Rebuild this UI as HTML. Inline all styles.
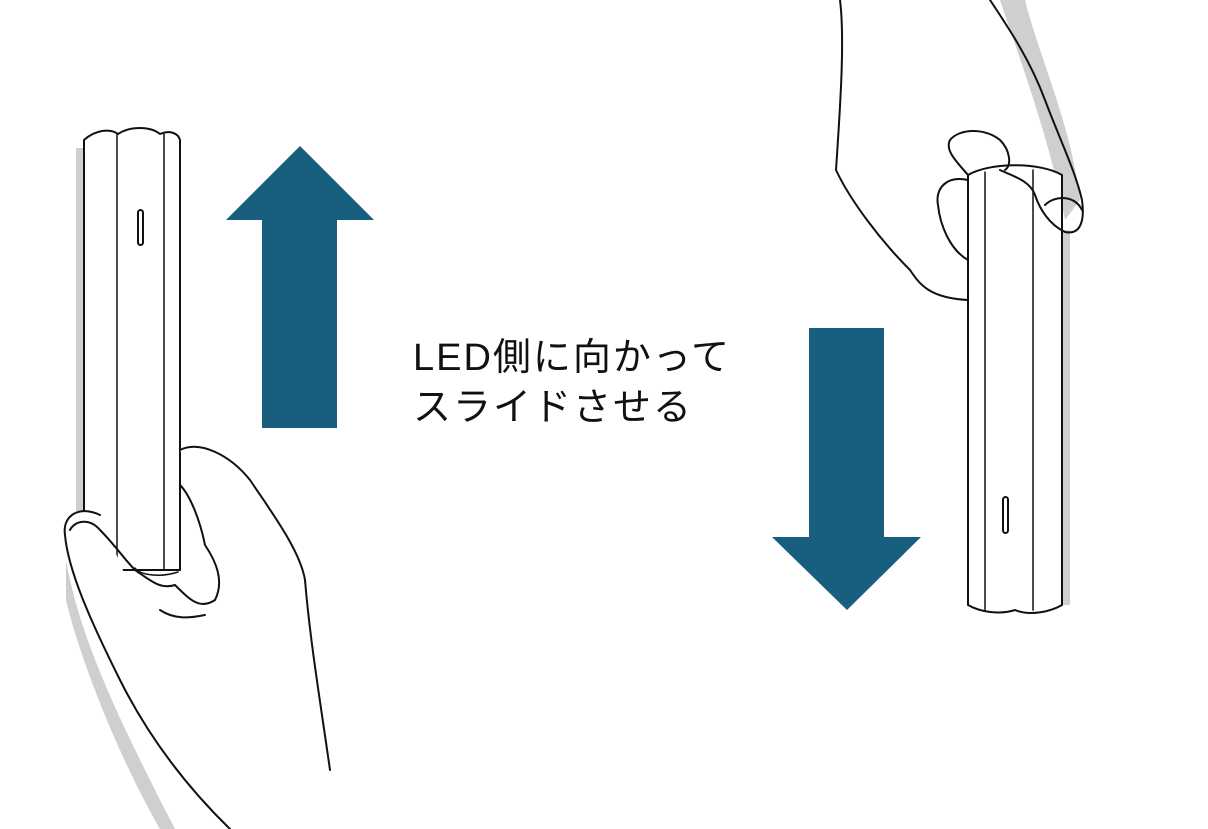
<!DOCTYPE html>
<html><head><meta charset="utf-8"><style>
html,body{margin:0;padding:0;background:#fff;width:1208px;height:829px;overflow:hidden}
.t{position:absolute;left:413px;top:333px;font-family:"Liberation Sans","Noto Sans CJK JP",sans-serif;font-size:38px;line-height:50px;color:#111;letter-spacing:2px;white-space:nowrap}
</style></head><body>
<svg width="1208" height="829" style="position:absolute;left:0;top:0" viewBox="0 0 1208 829">
<g fill="none" stroke="#111" stroke-width="2" stroke-linejoin="round" stroke-linecap="round">
<rect x="76" y="148" width="8" height="420" fill="#cfcfd1" stroke="none"/>
<path d="M66 560 C80 640 120 720 160 800 L175 829 L160 829 C120 760 80 660 66 600Z" fill="#cfcfd1" stroke="none"/>
<path d="M84 140 C95 130 110 128 118 134 C130 126 150 126 160 134 C170 130 178 133 180 140 L180 570 L84 570Z" fill="#fff"/>
<path d="M117 134 L117 570 M164 134 L164 570" stroke-width="1.5"/>
<rect x="138" y="210" width="5" height="35" rx="2.5"/>
<path d="M180 450 C200 440 230 455 250 480 C270 510 300 550 305 580 C310 640 320 700 330 770" fill="#fff"/>
<path d="M100 515 C80 505 62 515 65 535 C68 570 90 620 120 680 C150 740 190 790 230 829" fill="#fff"/>
<path d="M70 530 C75 520 90 518 100 530 C115 545 125 560 135 570 L180 570"/>
<path d="M135 570 C150 580 160 590 175 585 C190 600 200 610 215 600 C225 580 215 560 205 545 C200 520 190 495 180 485"/>
<path d="M160 610 C175 620 190 618 205 615"/>
<path d="M135 568 C140 575 160 578 178 572" stroke-width="1.5"/>
<rect x="1062" y="230" width="8" height="375" fill="#cfcfd1" stroke="none"/>
<path d="M1000 0 L1025 0 C1040 60 1070 120 1080 200 L1065 220 C1050 140 1020 60 1000 0Z" fill="#cfcfd1" stroke="none"/>
<path d="M968 175 L968 605 C980 612 1000 615 1015 610 C1030 616 1050 612 1062 605 L1062 175 C1040 162 990 162 968 175Z" fill="#fff"/>
<path d="M985 172 L985 610 M1033 170 L1033 610" stroke-width="1.5"/>
<rect x="1003" y="497" width="5" height="36" rx="2.5"/>
<path d="M840 0 C845 40 840 110 836 170 C850 200 880 240 910 270 C920 285 930 298 968 300" />
<path d="M990 0 C1010 30 1030 60 1045 100 C1060 140 1075 170 1082 200 C1085 222 1080 235 1065 232 C1050 225 1040 210 1035 195 C1030 180 1010 175 1000 170"/>
<path d="M968 175 C955 160 945 150 950 140 C960 128 985 128 1000 140 C1010 150 1012 165 1005 170"/>
<path d="M968 180 C945 175 935 190 938 205 C940 225 950 250 968 260"/>
<path d="M1045 205 C1055 195 1075 195 1082 210"/>
</g>
<polygon points="262,428 337,428 337,220 374,220 300,146 226,220 262,220" fill="#175e7f"/>
<polygon points="809,328 884,328 884,537 921,537 847,610 772,537 809,537" fill="#175e7f"/>
</svg>
<div class="t">LED側に向かって<br>スライドさせる</div>
</body></html>
